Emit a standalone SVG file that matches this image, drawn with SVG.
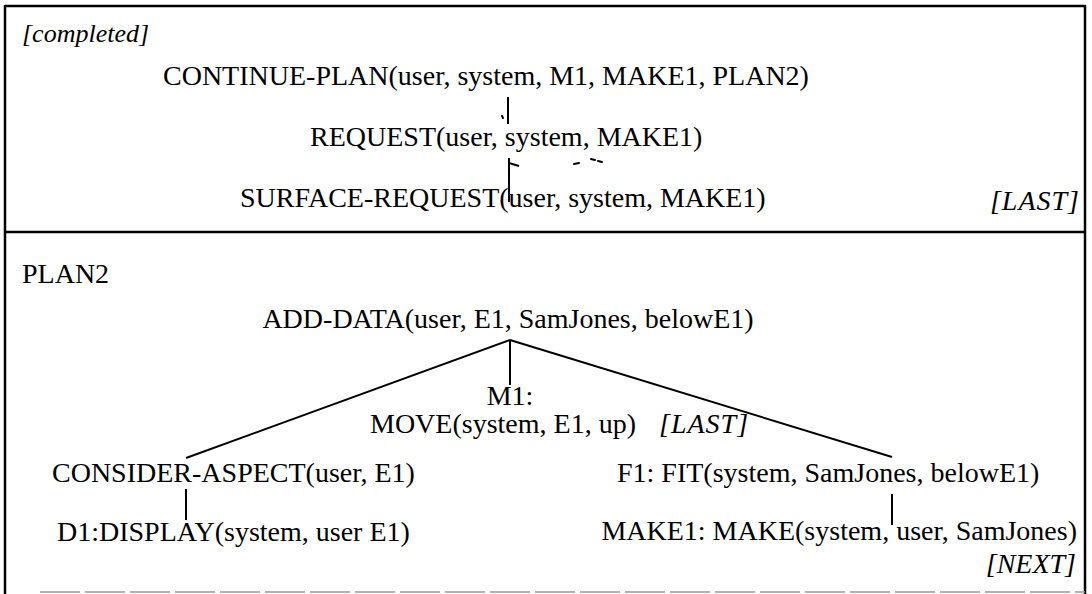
<svg xmlns="http://www.w3.org/2000/svg" width="1092" height="594" viewBox="0 0 1092 594">
<style>
text{font-family:"Liberation Serif","Times New Roman",serif;font-size:28px;fill:#000}
.it{font-style:italic}
.tag{font-style:italic;letter-spacing:1px}
.frame{stroke:#000;stroke-width:2.5;fill:none}
.ln{stroke:#000;stroke-width:2;fill:none}
.mark{stroke:#000;stroke-width:2;stroke-linecap:round;fill:none}
</style>
<rect x="0" y="0" width="1092" height="594" fill="#fff"/>
<g id="frame">
<line class="frame" x1="5" y1="6" x2="1086" y2="6"/>
<line class="frame" x1="5" y1="5" x2="5" y2="594"/>
<line class="frame" x1="1085" y1="5" x2="1085" y2="594"/>
<line class="frame" x1="5" y1="232" x2="1085" y2="232"/>
<line x1="40" y1="592" x2="1085" y2="592" stroke="#9a9a9a" stroke-width="1.5" stroke-dasharray="40 5"/>
</g>
<g id="connectors">
<line class="ln" x1="508" y1="97" x2="508" y2="124"/>
<line class="ln" x1="509" y1="158" x2="509" y2="202"/>
<line class="ln" x1="509" y1="163" x2="519" y2="166"/>
<line class="ln" x1="510" y1="340" x2="186" y2="458"/>
<line class="ln" x1="510" y1="340" x2="510" y2="385"/>
<line class="ln" x1="510" y1="340" x2="892" y2="457"/>
<line class="ln" x1="186" y1="489" x2="186" y2="520"/>
<line class="ln" x1="892" y1="494" x2="892" y2="525"/>
</g>
<g id="scan-marks">
<line class="mark" x1="502" y1="116" x2="503" y2="118"/>
<line class="mark" x1="574" y1="164" x2="579" y2="163"/>
<line class="mark" x1="591" y1="159" x2="595" y2="160"/>
<line class="mark" x1="598" y1="161" x2="602" y2="162"/>
</g>
<g id="completed-label"><text class="it" x="22" y="42" style="font-size:26px">[completed]</text></g>
<g id="continue-plan"><text x="163" y="85">CONTINUE-PLAN(user, system, M1, MAKE1, PLAN2)</text></g>
<g id="request"><text x="310" y="146">REQUEST(user, system, MAKE1)</text></g>
<g id="surface-request"><text x="240" y="207">SURFACE-REQUEST(user, system, MAKE1)</text><text class="tag" x="1080" y="210" text-anchor="end">[LAST]</text></g>
<g id="plan2-label"><text x="22" y="283">PLAN2</text></g>
<g id="add-data"><text x="508" y="328" text-anchor="middle">ADD-DATA(user, E1, SamJones, belowE1)</text></g>
<g id="move"><text x="510" y="405" text-anchor="middle">M1:</text><text x="370" y="433">MOVE(system, E1, up)</text><text class="tag" x="659" y="433">[LAST]</text></g>
<g id="consider-aspect"><text x="52" y="482">CONSIDER-ASPECT(user, E1)</text></g>
<g id="display"><text x="57" y="541">D1:DISPLAY(system, user E1)</text></g>
<g id="fit"><text x="617" y="482">F1: FIT(system, SamJones, belowE1)</text></g>
<g id="make"><text x="1077" y="540" text-anchor="end">MAKE1: MAKE(system, user, SamJones)</text><text class="it" x="1076" y="573" text-anchor="end">[NEXT]</text></g>
</svg>
